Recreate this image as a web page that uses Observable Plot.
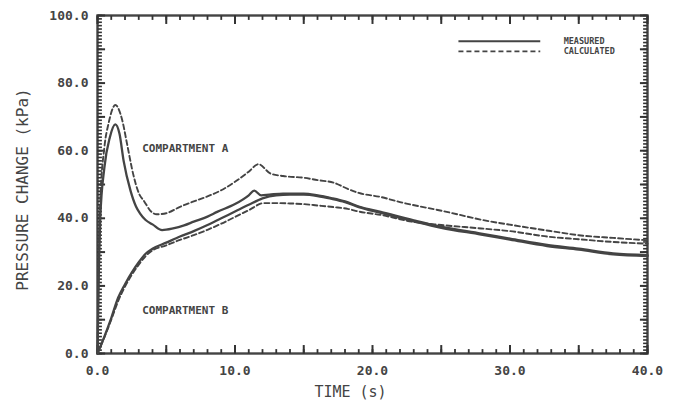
<!DOCTYPE html>
<html>
<head>
<meta charset="utf-8">
<script src="https://cdn.jsdelivr.net/npm/d3@7"></script>
<script src="https://cdn.jsdelivr.net/npm/@observablehq/plot@0.6"></script>
<style>
  html, body { margin: 0; padding: 0; background: #fff; }
  #chart svg { display: block; }
</style>
</head>
<body>
<div id="chart"></div>
<script>
// ---- Data ----
const tAMeas = [0,0.1,0.2,0.5,0.9,1.3,1.6,1.9,2.4,2.8,3.1,3.5,4,4.7,5.5,6.3,7,8,8.7,10,11,11.4,11.9,12.5,13.5,15,16,17,18,19,20.6,23,25,27.9,30,32.7,35,37.5,40];
const pAMeas = [0,25,40,55,64,67.8,65,57,48.2,43.5,41.4,39.5,38.2,36.5,37,37.9,39,40.5,41.9,44.2,46.8,48.2,46.8,47,47.3,47.3,46.8,46,45,43.5,41.9,39.4,37.5,35.5,34,32.1,31,29.6,29.1];

const tACalc = [0,0.1,0.2,0.5,0.8,1.3,1.8,2.15,2.6,3.0,3.4,3.9,4.3,5,6,7,8,9,10,11,11.7,12.6,13.5,15,16,17.2,18.2,19,20.6,22,25.4,28,30.3,33,35,37.5,40];
const pACalc = [0,30,45,61,68,73.5,69,62,53,47.5,45,42,41.2,41.5,43.4,45,46.5,48.3,50.8,53.8,56,53.2,52.5,52,51.3,50.5,48.7,47.5,46.3,44.8,41.9,39.5,37.9,36.2,35,34.2,33.5];

const tBMeas = [0,0.5,1,1.5,2,2.5,3,3.5,4,5,6,7,8,9,10,11,12,13,14,15,16,17,18,19,20.6,23,25,27.9,30,32.7,35,37.5,40];
const pBMeas = [0,5,10.5,16.5,20.5,24,27,29.5,31,32.8,34.6,36.2,38,40,42,44,45.9,46.8,47,47,46.6,45.8,44.8,43.3,41.6,39.1,37.2,35.2,33.7,31.8,30.7,29.3,28.8];

const tBCalc = [0,0.5,1,1.5,2,2.5,3,3.5,4,5,6,7,8,9,10,11,12.1,13,14,15,16,17.2,18.2,19,20.6,23,25,27.9,30,32.7,35,37.5,40];
const pBCalc = [0,4.8,10,15.5,19.8,23.3,26.3,28.8,30.5,32,33.6,35,36.6,38.4,40.4,42.4,44.5,44.5,44.4,44.2,43.8,43.3,42.8,42,41,38.9,38,37,36.2,34.6,33.8,33,32.5];

const xTickLabels = [0,10,20,30,40];
const yTickLabels = [0,20,40,60,80,100];
const xMinorTicks = d3.range(0, 41, 1);
const xMajorTicks = d3.range(0, 41, 5);
const yMinorTicks = d3.range(0, 101, 1);
const yMajorTicks = d3.range(0, 101, 10);

const xTitle = "TIME (s)";
const yTitle = "PRESSURE CHANGE (kPa)";
const compartmentLabels = [
  {t: 3.25, p: 60.6, text: "COMPARTMENT A"},
  {t: 3.25, p: 12.7, text: "COMPARTMENT B"}
];
const legendMeasured = [{name: "MEASURED", t1: 26.25, t2: 32.2, p: 92.4}];
const legendCalculated = [{name: "CALCULATED", t1: 26.25, t2: 32.2, p: 89.4}];

// ---- Build ----
const W = 676, H = 406;
const mL = 97, mR = 29, mT = 15, mB = 53;
const ink = "#444";
const tickInk = "#333";
const font = "DejaVu Sans Mono";
// tick lengths expressed in data units (≈ 3.4 px per kPa, ≈ 13.75 px per s)
const xMinorLen = 1.3, xMajorLen = 2.5;   // kPa
const yMinorLen = 0.32, yMajorLen = 0.55; // s

const toRows = (ts, ps) => ts.map((t, i) => ({t, p: ps[i]}));
const aMeas = toRows(tAMeas, pAMeas);
const aCalc = toRows(tACalc, pACalc);
const bMeas = toRows(tBMeas, pBMeas);
const bCalc = toRows(tBCalc, pBCalc);

const fmt = d => d.toFixed(1);

const xTick = (ticks, from, to, w) =>
  Plot.link(ticks, {x1: d => d, x2: d => d, y1: d => from, y2: d => to, stroke: tickInk, strokeWidth: w, strokeOpacity: 1});
const yTick = (ticks, from, to, w) =>
  Plot.link(ticks, {y1: d => d, y2: d => d, x1: d => from, x2: d => to, stroke: tickInk, strokeWidth: w, strokeOpacity: 1});

const chart = Plot.plot({
  width: W, height: H,
  marginLeft: mL, marginRight: mR, marginTop: mT, marginBottom: mB,
  style: {fontFamily: font, background: "#fff", color: ink},
  x: {domain: [0, 40]},
  y: {domain: [0, 100]},
  marks: [
    Plot.frame({stroke: ink, strokeWidth: 2.4, fill: "none"}),
    // inward ticks: bottom & top
    xTick(xMinorTicks, 0, xMinorLen, 1.8),
    xTick(xMajorTicks, 0, xMajorLen, 2),
    xTick(xMinorTicks, 100, 100 - xMinorLen, 1.8),
    xTick(xMajorTicks, 100, 100 - xMajorLen, 2),
    // inward ticks: left & right
    yTick(yMinorTicks, 0, yMinorLen, 1.6),
    yTick(yMajorTicks, 0, yMajorLen, 2),
    yTick(yMinorTicks, 40, 40 - yMinorLen, 1.6),
    yTick(yMajorTicks, 40, 40 - yMajorLen, 2),

    // tick labels
    Plot.axisX({ticks: xTickLabels, tickSize: 0, tickPadding: 12, tickFormat: fmt, fontSize: 13, fontWeight: "bold", label: null}),
    Plot.axisY({ticks: yTickLabels, tickSize: 0, tickPadding: 9, tickFormat: fmt, fontSize: 13, fontWeight: "bold", label: null}),

    // axis titles
    Plot.text([xTitle], {frameAnchor: "bottom", textAnchor: "middle", dy: 43, dx: -22, fontSize: 15, fill: ink}),
    Plot.text([yTitle], {frameAnchor: "left", textAnchor: "middle", dx: -75, dy: 5, rotate: -90, fontSize: 16, fill: ink}),

    // curves
    Plot.line(aCalc, {x: "t", y: "p", stroke: ink, strokeWidth: 1.9, strokeDasharray: "5,3", curve: "monotone-x"}),
    Plot.line(bCalc, {x: "t", y: "p", stroke: ink, strokeWidth: 1.9, strokeDasharray: "5,3", curve: "monotone-x"}),
    Plot.line(aMeas, {x: "t", y: "p", stroke: ink, strokeWidth: 2.3, curve: "monotone-x"}),
    Plot.line(bMeas, {x: "t", y: "p", stroke: ink, strokeWidth: 2.3, curve: "monotone-x"}),

    // compartment labels
    Plot.text(compartmentLabels, {x: "t", y: "p", text: "text", textAnchor: "start", fontSize: 11, fontWeight: "bold", fill: ink}),

    // legend
    Plot.link(legendMeasured, {x1: "t1", x2: "t2", y1: "p", y2: "p", stroke: ink, strokeWidth: 2}),
    Plot.link(legendCalculated, {x1: "t1", x2: "t2", y1: "p", y2: "p", stroke: ink, strokeWidth: 1.8, strokeDasharray: "5,3"}),
    Plot.text([...legendMeasured, ...legendCalculated], {x: d => 33.9, y: "p", text: "name", textAnchor: "start", fontSize: 8.5, fontWeight: "bold", fill: ink})
  ]
});

document.getElementById("chart").appendChild(chart);
</script>
</body>
</html>
